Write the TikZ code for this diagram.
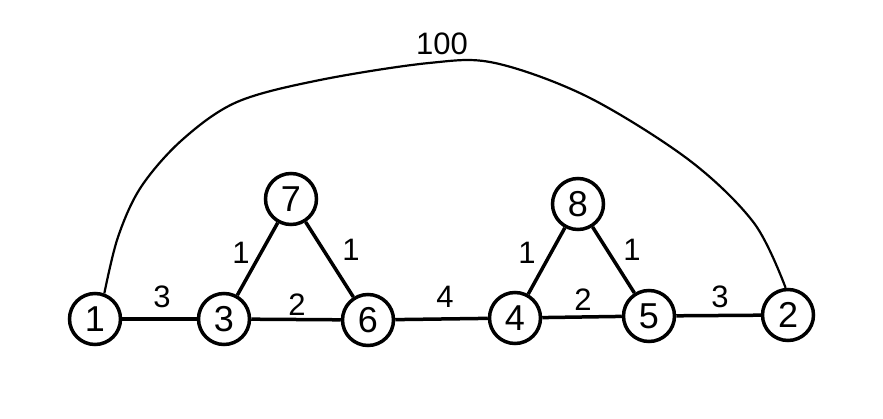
\documentclass[tikz,border=0pt]{standalone}
\usepackage{fontspec}
\setmainfont{Liberation Sans}
\begin{document}
\begin{tikzpicture}[x=1pt,y=-1pt,
  vert/.style={circle,draw,line width=3.5pt,minimum size=51pt,inner sep=0pt,font=\fontsize{36}{36}\selectfont},
  edge/.style={line width=3.5pt},
  wlab/.style={inner sep=0pt,font=\fontsize{31}{31}\selectfont}]
\useasboundingbox (0,0) rectangle (883,419);
\node[vert] (n1) at (95,319) {1};
\node[vert] (n3) at (224,319) {3};
\node[vert] (n6) at (368,320) {6};
\node[vert] (n4) at (515,318) {4};
\node[vert] (n5) at (649,316) {5};
\node[vert] (n2) at (788,315) {2};
\node[vert] (n7) at (291,199) {7};
\node[vert] (n8) at (578,204) {8};
\draw[edge] (n1) -- (n3);
\draw[edge] (n3) -- (n6);
\draw[edge] (n6) -- (n4);
\draw[edge] (n4) -- (n5);
\draw[edge] (n5) -- (n2);
\draw[edge] (n3) -- (n7);
\draw[edge] (n7) -- (n6);
\draw[edge] (n4) -- (n8);
\draw[edge] (n8) -- (n5);
\draw[line width=2.2pt] plot[smooth,tension=0.55] coordinates {(n1.70) (118,237) (141,187) (182,140) (237,102) (320,80) (429,63) (495,63) (588,97) (689,160) (754,223) (n2.95)};
\node[wlab] (l13) at (162,297) {3};
\node[wlab] (l36) at (297,305) {2};
\node[wlab] (l37) at (241,253) {1};
\node[wlab] (l76) at (351,250) {1};
\node[wlab] (l64) at (445,297) {4};
\node[wlab] (l45) at (583,300) {2};
\node[wlab] (l48) at (527,253) {1};
\node[wlab] (l85) at (632,250) {1};
\node[wlab] (l52) at (720,297) {3};
\node[wlab] (l12) at (442,44) {100};
\end{tikzpicture}
\end{document}
